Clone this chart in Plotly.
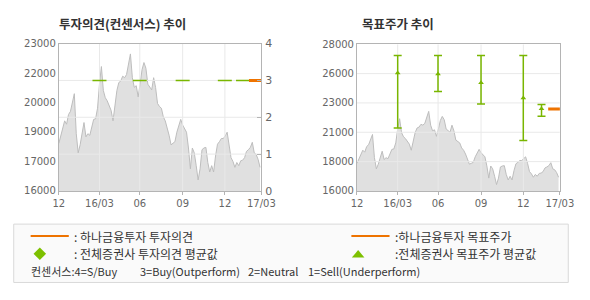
import plotly.graph_objects as go

# ---------------- data ----------------
# share price, sampled at equal steps of trading days (index 0 .. 104)
price = [18260, 18640, 19070, 19330, 19170, 19630, 19780, 20240, 20620, 18720,
         17810, 18190, 18640, 19250, 18570, 18720, 18640, 19020, 19400, 19430,
         19930, 21070, 21910, 20770, 20430, 20280, 20080, 19830, 19330, 20080,
         20770, 21150, 21220, 21450, 21380, 21530, 22130, 22510, 21380, 20920,
         21000, 20470, 21070, 21760, 22100, 21830, 21070, 20920, 20800, 21380,
         20920, 20160, 20010, 19930, 19520, 19330, 19020, 18640, 18190, 18260,
         18340, 18790, 19070, 19400, 19130, 18950, 18790, 18040, 17050, 18040,
         17810, 17200, 16520, 17050, 17960, 18040, 18070, 17350, 16900, 17200,
         16900, 17660, 18220, 18340, 18490, 18490, 18610, 18790, 18260, 17580,
         17400, 17120, 17350, 17200, 17430, 17460, 17580, 17880, 17960, 18070,
         18310, 17810, 17730, 17500, 17120]
day_end = 104.67

x_tick_pos = [0, 21.0, 41.83, 64.0, 85.83, 104.67]
x_tick_text = ["12", "16/03", "06", "09", "12", "17/03"]

# consensus observations (all brokers)
obs_day = [21.0, 41.8, 64.0, 85.8, 95.2]
consensus_opinion = [3, 3, 3, 3, 3]
target_avg = [25650, 25570, 24860, 23610, 22720]
target_high = [27080, 27080, 27080, 27080, 23080]
target_low = [21150, 24130, 23110, 20130, 22120]

# Hana Financial Investment
hana_day = [101.9]
hana_opinion = [3]
hana_target = [22700]

left_y_range = [16000, 23000]
left_y_ticks = [16000, 17400, 18800, 20200, 21600, 23000]
left_y_text = ["16000", "17000", "19000", "20000", "22000", "23000"]
opinion_range = [0, 4]
opinion_ticks = [0, 1, 2, 3, 4]
right_y_range = [16000, 28000]
right_chart_ticks = [16000, 18400, 20800, 23200, 25600, 28000]
right_chart_text = ["16000", "18000", "21000", "23000", "26000", "28000"]

# ---------------- styling ----------------
W, H = 590, 300
GREEN = "#79B600"
ORANGE = "#EE7300"
FRAME = "#B4B4B4"
GRID = "#E9E9E9"
TICKFONT = dict(family="DejaVu Sans", size=10, color="#666666")
KFONT = "Noto Sans CJK KR"


def px(x):
    return x / W


def py(y):
    return (H - y) / H


def grid_trace(xs, ys, xa, ya):
    return go.Scatter(x=xs, y=ys, mode="lines", line=dict(color=GRID, width=1),
                      xaxis=xa, yaxis=ya, hoverinfo="skip", connectgaps=False)


def vgrid(xvals, yr):
    xs, ys = [], []
    for v in xvals:
        xs += [v, v, None]
        ys += [yr[0], yr[1], None]
    return xs, ys


def hgrid(yvals, xr):
    xs, ys = [], []
    for v in yvals:
        xs += [xr[0], xr[1], None]
        ys += [v, v, None]
    return xs, ys


fig = go.Figure()
days = list(range(len(price)))
xr = [0, day_end]

# ---- left chart ----
fig.add_trace(go.Scatter(x=days, y=price, mode="lines", fill="tozeroy",
                         fillcolor="#E0E0E0", line=dict(color="#BDBDBD", width=1),
                         xaxis="x", yaxis="y", hoverinfo="skip"))
fig.add_trace(grid_trace(*vgrid(x_tick_pos[1:-1], opinion_range), "x", "y2"))
fig.add_trace(grid_trace(*hgrid(opinion_ticks[1:-1], xr), "x", "y2"))
fig.add_trace(go.Scatter(x=obs_day, y=consensus_opinion, mode="markers",
                         marker=dict(symbol="line-ew", size=10,
                                     line=dict(color=GREEN, width=1.5)),
                         xaxis="x", yaxis="y2"))
fig.add_trace(go.Scatter(x=hana_day, y=hana_opinion, mode="markers",
                         marker=dict(symbol="line-ew", size=10,
                                     line=dict(color=ORANGE, width=3)),
                         xaxis="x", yaxis="y2"))

# ---- right chart ----
fig.add_trace(go.Scatter(x=days, y=price, mode="lines", fill="tozeroy",
                         fillcolor="#E0E0E0", line=dict(color="#BDBDBD", width=1),
                         xaxis="x2", yaxis="y3", hoverinfo="skip"))
fig.add_trace(grid_trace(*vgrid(x_tick_pos[1:-1], right_y_range), "x2", "y3"))
fig.add_trace(grid_trace(*hgrid(right_chart_ticks[1:-1], xr), "x2", "y3"))
fig.add_trace(go.Scatter(
    x=obs_day, y=target_avg, mode="markers",
    marker=dict(symbol="triangle-up", size=5, color=GREEN),
    error_y=dict(type="data", symmetric=False,
                 array=[h - a for h, a in zip(target_high, target_avg)],
                 arrayminus=[a - l for a, l in zip(target_avg, target_low)],
                 color=GREEN, thickness=1.5, width=4),
    xaxis="x2", yaxis="y3"))
fig.add_trace(go.Scatter(x=hana_day, y=hana_target, mode="markers",
                         marker=dict(symbol="line-ew", size=9,
                                     line=dict(color=ORANGE, width=3)),
                         xaxis="x2", yaxis="y3"))

L_DOM = [px(54.7), px(264.3)]
R_DOM = [px(363.3), px(573.3)]
Y_DOM_L = [py(193.3), py(39.3)]
Y_DOM_R = [py(193.3), py(40.0)]

common_x = dict(range=xr, tickvals=x_tick_pos, ticktext=x_tick_text,
                showgrid=False, zeroline=False, showline=True, linecolor=FRAME,
                linewidth=1, mirror=True, ticks="outside", ticklen=3,
                tickcolor=FRAME, tickfont=TICKFONT, fixedrange=True)

fig.update_layout(
    width=W, height=H, autosize=False,
    margin=dict(l=0, r=0, t=0, b=0),
    paper_bgcolor="white", plot_bgcolor="white",
    showlegend=False,
    xaxis=dict(domain=L_DOM, anchor="y", **common_x),
    yaxis=dict(domain=Y_DOM_L, anchor="x", range=left_y_range,
               tickvals=left_y_ticks, ticktext=left_y_text,
               showgrid=False, zeroline=False, showline=True, linecolor=FRAME,
               mirror=True, ticks="", tickfont=TICKFONT, fixedrange=True),
    yaxis2=dict(overlaying="y", side="right", anchor="x", range=opinion_range,
                tickvals=opinion_ticks, showgrid=False, zeroline=False,
                showline=False, ticks="inside", ticklen=4, tickcolor=FRAME,
                ticklabelstandoff=3,
                tickfont=dict(family="DejaVu Sans", size=11, color="#666666"),
                fixedrange=True),
    xaxis2=dict(domain=R_DOM, anchor="y3", **common_x),
    yaxis3=dict(domain=Y_DOM_R, anchor="x2", range=right_y_range,
                tickvals=right_chart_ticks, ticktext=right_chart_text,
                showgrid=False, zeroline=False, showline=True, linecolor=FRAME,
                mirror=True, ticks="", tickfont=TICKFONT, fixedrange=True),
)

shapes = []
# legend box
shapes.append(dict(type="rect", xref="paper", yref="paper",
                   x0=px(8), x1=px(582), y0=py(289), y1=py(228),
                   line=dict(color="#D9D9D9", width=1), fillcolor="#FAFAFA", layer="below"))
# legend symbols
shapes.append(dict(type="line", xref="paper", yref="paper", x0=px(25.5), x1=px(65),
                   y0=py(240.5), y1=py(240.5), line=dict(color=ORANGE, width=2)))
shapes.append(dict(type="line", xref="paper", yref="paper", x0=px(357.5), x1=px(397),
                   y0=py(240.5), y1=py(240.5), line=dict(color=ORANGE, width=2)))
cx, cy, r = 35, 259, 6.5
shapes.append(dict(type="path", xref="paper", yref="paper",
                   path=f"M {px(cx)} {py(cy - r)} L {px(cx + r)} {py(cy)} L {px(cx)} {py(cy + r)} L {px(cx - r)} {py(cy)} Z",
                   fillcolor="#7DC000", line=dict(width=0)))
tx, ty = 364.5, 259
shapes.append(dict(type="path", xref="paper", yref="paper",
                   path=f"M {px(tx - 6.5)} {py(ty + 4)} L {px(tx + 6.5)} {py(ty + 4)} L {px(tx)} {py(ty - 4)} Z",
                   fillcolor="#7DC000", line=dict(width=0)))
fig.update_layout(shapes=shapes)

ann = []


def text(x, y, s, size=12, bold=False, color="#333333"):
    ann.append(dict(x=px(x), y=py(y), xref="paper", yref="paper", text=s,
                    showarrow=False, xanchor="left", yanchor="middle",
                    font=dict(family=KFONT, size=size, color=color,
                              weight="bold" if bold else "normal")))


text(53, 18.5, "투자의견(컨센서스) 추이", size=12.5, bold=True)
text(366, 18.5, "목표주가 추이", size=12.5, bold=True)
text(68, 240.5, ": 하나금융투자 투자의견")
text(68, 259, ": 전체증권사 투자의견 평균값")
text(401, 240.5, ":하나금융투자 목표주가")
text(401, 259, ":전체증권사 목표주가 평균값")
text(24, 276.5, "컨센서스:4=S/Buy", size=11)
text(137, 276.5, "3=Buy(Outperform)", size=11)
text(248, 276.5, "2=Neutral", size=11)
text(311, 276.5, "1=Sell(Underperform)", size=11)
fig.update_layout(annotations=ann)

fig.write_html("out.html")
